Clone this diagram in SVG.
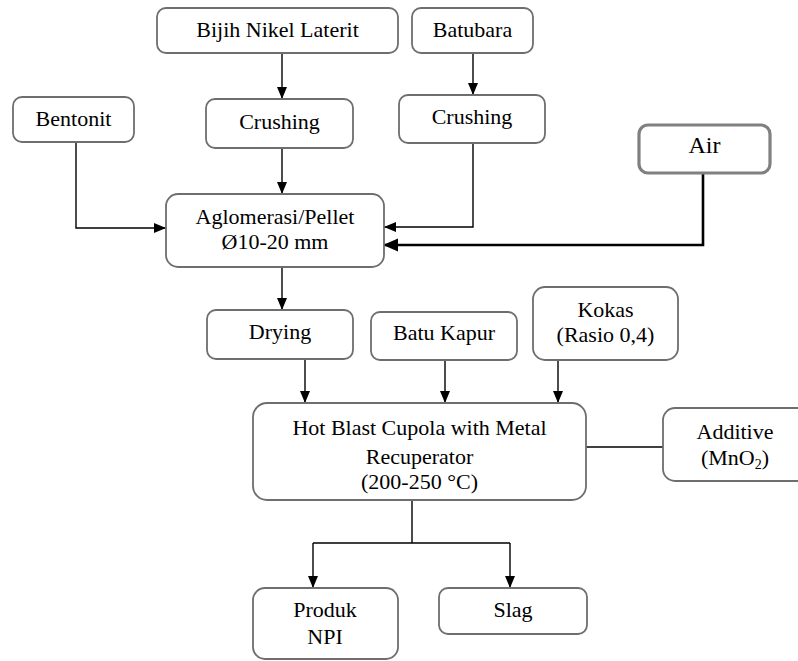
<svg xmlns="http://www.w3.org/2000/svg" width="798" height="661" viewBox="0 0 798 661">
<style>
.box{fill:#fff;stroke:#6e6e6e;stroke-width:1.8}
.boxb{fill:#fff;stroke:#808080;stroke-width:3.2}
text{font-family:"Liberation Serif","Times New Roman",serif;font-size:22px;fill:#000;text-anchor:middle}
.ln{fill:none;stroke:#000;stroke-width:1.4}
.lnb{fill:none;stroke:#000;stroke-width:2.6}
</style>
<defs>
<marker id="ah" markerUnits="userSpaceOnUse" markerWidth="13" markerHeight="11" refX="12" refY="5" orient="auto">
<path d="M0,0 L12,5 L0,10 z" fill="#000"/>
</marker>
<marker id="ahb" markerUnits="userSpaceOnUse" markerWidth="16" markerHeight="14" refX="15" refY="6.5" orient="auto">
<path d="M0,0 L15,6.5 L0,13 z" fill="#000"/>
</marker>
</defs>
<g id="connectors">
<path class="ln" d="M282,53 V99" marker-end="url(#ah)"/>
<path class="ln" d="M473,53 V95" marker-end="url(#ah)"/>
<path class="ln" d="M282,148 V194" marker-end="url(#ah)"/>
<path class="ln" d="M76,142 V228 H166" marker-end="url(#ah)"/>
<path class="ln" d="M473,143 V227 H384" marker-end="url(#ah)"/>
<path class="lnb" d="M703,173 V245 H383" marker-end="url(#ahb)"/>
<path class="ln" d="M282,267 V310" marker-end="url(#ah)"/>
<path class="ln" d="M305,359 V403" marker-end="url(#ah)"/>
<path class="ln" d="M445,360 V403" marker-end="url(#ah)"/>
<path class="ln" d="M558,360 V403" marker-end="url(#ah)"/>
<path class="ln" d="M586,447 H663"/>
<path class="ln" d="M412,500 V543 M313,543 H510"/>
<path class="ln" d="M313,543 V588" marker-end="url(#ah)"/>
<path class="ln" d="M510,543 V588" marker-end="url(#ah)"/>
</g>
<g id="bijih"><rect class="box" x="157" y="8" width="241" height="45" rx="9"/><text x="277.5" y="37">Bijih Nikel Laterit</text></g>
<g id="batubara"><rect class="box" x="412" y="8" width="121" height="45" rx="9"/><text x="472.5" y="37">Batubara</text></g>
<g id="crushing1"><rect class="box" x="206" y="99" width="147" height="49" rx="9"/><text x="279.5" y="129">Crushing</text></g>
<g id="crushing2"><rect class="box" x="399" y="95" width="146" height="48" rx="9"/><text x="472" y="124">Crushing</text></g>
<g id="bentonit"><rect class="box" x="13" y="97" width="121" height="45" rx="9"/><text x="73.5" y="126">Bentonit</text></g>
<g id="aglomerasi"><rect class="box" x="166" y="194" width="218" height="73" rx="12"/><text x="275" y="224">Aglomerasi/Pellet</text><text x="275" y="249">Ø10-20 mm</text></g>
<g id="air"><rect class="boxb" x="639" y="125" width="131" height="48" rx="9"/><text x="704.5" y="153" style="font-size:24px">Air</text></g>
<g id="drying"><rect class="box" x="207" y="310" width="146" height="49" rx="9"/><text x="280" y="339">Drying</text></g>
<g id="batukapur"><rect class="box" x="371" y="312" width="146" height="48" rx="9"/><text x="444" y="340">Batu Kapur</text></g>
<g id="kokas"><rect class="box" x="533" y="287" width="145" height="73" rx="12"/><text x="605.5" y="317">Kokas</text><text x="605.5" y="342">(Rasio 0,4)</text></g>
<g id="hotblast"><rect class="box" x="253" y="403" width="333" height="97" rx="14"/><text x="419.5" y="435">Hot Blast Cupola with Metal</text><text x="419.5" y="464">Recuperator</text><text x="419.5" y="489">(200-250 °C)</text></g>
<g id="additive"><rect class="box" x="663" y="408" width="150" height="73" rx="12"/><text x="735" y="439">Additive</text><text x="735" y="465">(MnO<tspan font-size="14" dy="4">2</tspan><tspan dy="-4">)</tspan></text></g>
<g id="produk"><rect class="box" x="253" y="588" width="145" height="71" rx="12"/><text x="325" y="617">Produk</text><text x="325" y="644">NPI</text></g>
<g id="slag"><rect class="box" x="439" y="588" width="148" height="46" rx="9"/><text x="513" y="617">Slag</text></g>
</svg>
